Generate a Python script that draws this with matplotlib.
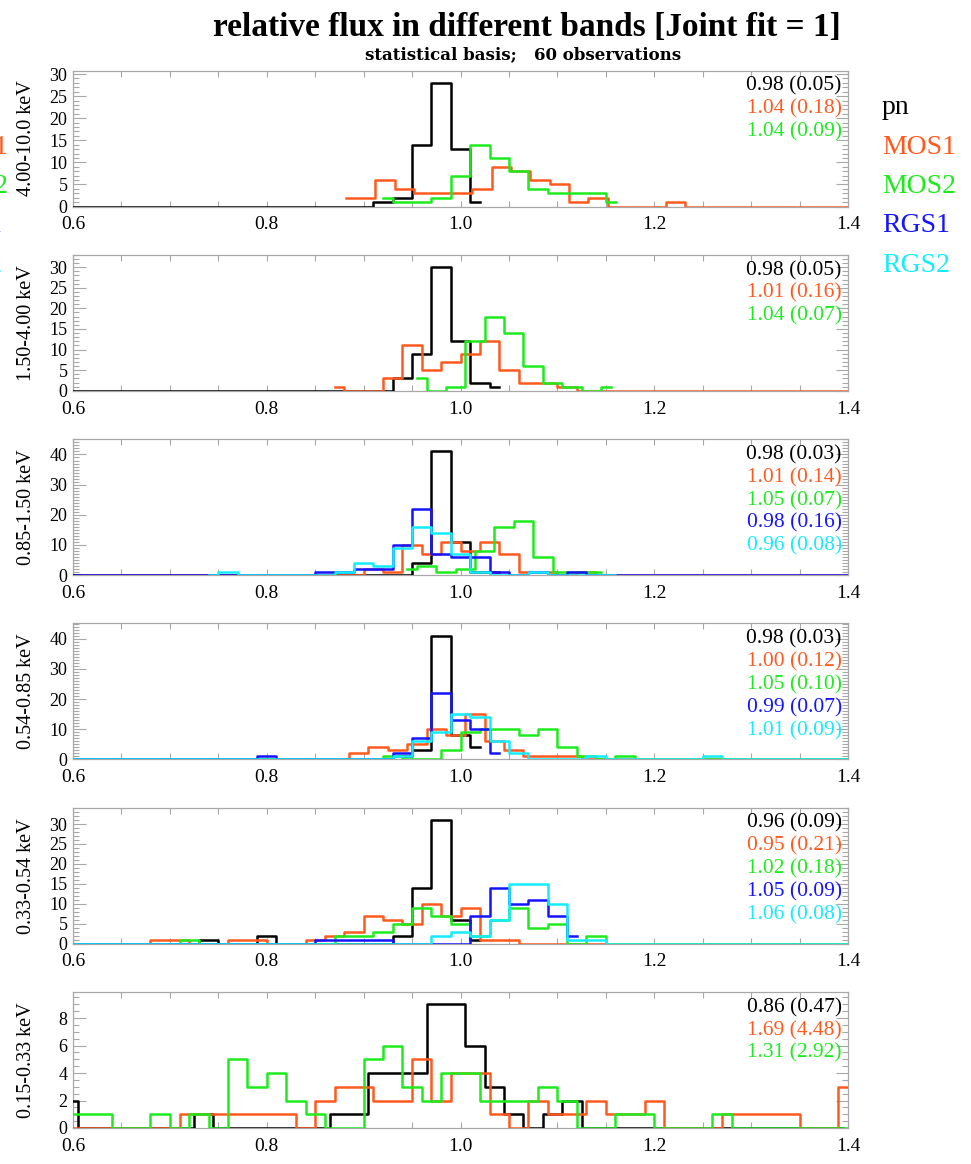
import numpy as np
import matplotlib.pyplot as plt
from matplotlib.ticker import MultipleLocator, FormatStrFormatter

plt.rcParams['font.family'] = ['Liberation Serif', 'DejaVu Serif']

BIN = 0.02

bands = ['4.00-10.0 keV', '1.50-4.00 keV', '0.85-1.50 keV',
         '0.54-0.85 keV', '0.33-0.54 keV', '0.15-0.33 keV']
names = ['pn', 'MOS1', 'MOS2', 'RGS1', 'RGS2']
colors = ['black', '#ff5a1e', '#1eeb1e', '#1414ff', '#14ecff']

# centre of the first bin of each histogram, one entry per band
pn_x0 = [0.60, 0.60, 0.60, 0.60, 0.60, 0.595]
mos1_x0 = [0.882, 0.87, 0.61, 0.595, 0.61, 0.60]
mos2_x0 = [0.92, 0.955, 0.945, 0.61, 0.60, 0.59]
rgs1_x0 = [None, None, 0.60, 0.60, 0.60, None]
rgs2_x0 = [None, None, 0.74, 0.60, 0.60, None]

# counts per bin (0.02 wide)
pn_counts = [
    [0] * 16 + [1, 2, 14, 28, 13, 1],
    [0] * 17 + [3, 9, 30, 12, 2, 1],
    [0] * 18 + [4, 41, 11, 1, 1],
    [0] * 17 + [1, 3, 41, 8, 4],
    [0] * 7 + [1, 0, 0, 2] + [0] * 6 + [2, 14, 31, 6, 1],
    [2] + [0] * 6 + [1] + [0] * 6 + [1, 1, 4, 4, 4, 9, 9, 6, 3, 1, 0, 1, 2] + [0] * 14,
]
mos1_counts = [
    [2, 2, 6, 4, 3, 3, 3, 4, 9, 8, 6, 5, 1, 2, 0, 0, 0, 1] + [0] * 9,
    [1, 0, 0, 3, 11, 5, 7, 9, 12, 5, 2, 2, 1] + [0] * 15,
    [0] * 15 + [2, 1, 10, 7, 11, 8, 11, 7, 1, 1, 0, 1] + [0] * 14,
    [0] * 15 + [2, 4, 3, 5, 10, 8, 15, 6, 3, 1, 1, 1] + [0] * 14,
    [0] * 4 + [1, 1, 0, 0, 1, 1, 0, 0, 1, 2, 3, 7, 6, 5, 10, 7, 9, 1, 1] + [0] * 18,
    [0] * 6 + [1] * 6 + [0, 2, 3, 3, 2, 2, 5, 2, 4, 4, 1, 0, 2, 1, 1, 2, 1, 1, 2,
                         0, 0, 0, 1, 1, 1, 1, 0, 0, 3],
]
mos2_counts = [
    [2, 1, 1, 2, 7, 14, 11, 8, 4, 3, 3, 3, 1],
    [3, 0, 1, 12, 18, 14, 6, 2, 1, 0, 1],
    [2, 3, 1, 2, 8, 16, 18, 6, 1, 1, 1],
    [0] * 16 + [1, 0, 0, 3, 9, 10, 10, 8, 10, 4, 1, 0, 1] + [0] * 12,
    [0] * 6 + [1] + [0] * 7 + [2, 2, 3, 5, 9, 7, 5, 2, 6, 9, 4, 5, 0, 2] + [0] * 13,
    [1, 1, 1, 0, 0, 1, 0, 1, 0, 5, 3, 4, 2, 1, 0, 0, 5, 6, 3, 2, 4, 4, 2, 2, 2,
     3, 2, 0, 0, 1, 1, 0, 0, 0, 1] + [0] * 7,
]
rgs1_counts = [
    None, None,
    [0] * 13 + [1, 1, 2, 2, 10, 22, 7, 6, 6, 1, 0, 1, 0, 1] + [0] * 14,
    [0] * 10 + [1] + [0] * 6 + [2, 7, 22, 13, 10, 2],
    [0] * 13 + [1, 1, 1, 1] + [0] * 4 + [7, 14, 10, 11, 7, 2],
    None,
]
rgs2_counts = [
    None, None,
    [0, 1] + [0] * 5 + [1, 4, 3, 9, 16, 14, 7, 1, 0, 0, 1, 0, 0, 0, 0],
    [0] * 17 + [1, 6, 9, 15, 14, 6, 2, 0, 0, 0, 1] + [0] * 5 + [1] + [0] * 7,
    [0] * 19 + [2, 3, 2, 6, 15, 15, 10, 1, 1] + [0] * 13,
    None,
]

# mean ratio and scatter quoted in each panel
pn_mean = [0.98, 0.98, 0.98, 0.98, 0.96, 0.86]
pn_sig = [0.05, 0.05, 0.03, 0.03, 0.09, 0.47]
mos1_mean = [1.04, 1.01, 1.01, 1.00, 0.95, 1.69]
mos1_sig = [0.18, 0.16, 0.14, 0.12, 0.21, 4.48]
mos2_mean = [1.04, 1.04, 1.05, 1.05, 1.02, 1.31]
mos2_sig = [0.09, 0.07, 0.07, 0.10, 0.18, 2.92]
rgs1_mean = [None, None, 0.98, 0.99, 1.05, None]
rgs1_sig = [None, None, 0.16, 0.07, 0.09, None]
rgs2_mean = [None, None, 0.96, 1.01, 1.06, None]
rgs2_sig = [None, None, 0.08, 0.09, 0.08, None]

x0s = [pn_x0, mos1_x0, mos2_x0, rgs1_x0, rgs2_x0]
counts = [pn_counts, mos1_counts, mos2_counts, rgs1_counts, rgs2_counts]
means = [pn_mean, mos1_mean, mos2_mean, rgs1_mean, rgs2_mean]
sigs = [pn_sig, mos1_sig, mos2_sig, rgs1_sig, rgs2_sig]
ymajor = [5, 5, 10, 10, 5, 2]
yminor = [1, 1, 1, 1, 1, 0.5]

W, H = 971, 1164
fig = plt.figure(figsize=(W / 100, H / 100), dpi=100)

left, width, height = 73, 775, 136
axis_grey = '#a8a8a8'

for i, band in enumerate(bands):
    top = 70.5 + 184.3 * i
    ax = fig.add_axes([left / W, 1 - (top + height) / H, width / W, height / H])
    peak = 0
    for k in range(5):
        n = counts[k][i]
        if n is None:
            continue
        x = x0s[k][i] + BIN * np.arange(len(n))
        ax.step(x, n, where='mid', color=colors[k], lw=1.8, zorder=3 + k)
        peak = max(peak, max(n))

    ax.set_xlim(0.6, 1.4)
    ax.set_ylim(0, 1.1 * peak)
    ax.xaxis.set_major_locator(MultipleLocator(0.2))
    ax.xaxis.set_minor_locator(MultipleLocator(0.05))
    ax.xaxis.set_major_formatter(FormatStrFormatter('%.1f'))
    ax.yaxis.set_major_locator(MultipleLocator(ymajor[i]))
    ax.yaxis.set_minor_locator(MultipleLocator(yminor[i]))
    ax.tick_params(which='both', direction='in', top=True, right=True,
                   color=axis_grey, width=0.8)
    ax.tick_params(axis='x', which='both', length=4, labelsize=14, pad=7)
    ax.tick_params(axis='y', which='major', length=9, labelsize=13, pad=4)
    ax.tick_params(axis='y', which='minor', length=4)
    for s in ax.spines.values():
        s.set_color(axis_grey)
        s.set_linewidth(0.9)
        s.set_zorder(1)

    ax.set_ylabel(band, fontsize=14.5)
    ax.yaxis.set_label_coords((36 - left) / width, 0.5)

    # mean (sigma) per instrument, top right
    line = 0
    for k in range(5):
        if means[k][i] is None:
            continue
        ax.text(0.992, 0.885 - line * 0.168,
                '%.2f (%.2f)' % (means[k][i], sigs[k][i]),
                transform=ax.transAxes, ha='right', va='center',
                fontsize=15.5, color=colors[k])
        line += 1

fig.text(527 / W, 1 - 28 / H, 'relative flux in different bands [Joint fit = 1]',
         ha='center', va='center', fontsize=24, fontweight='bold')
fig.text(523 / W, 1 - 55 / H, 'statistical basis;   60 observations',
         ha='center', va='center', fontsize=12, fontweight='bold',
         family='DejaVu Serif')

# instrument key on the right, and its copy running off the left edge
for k, name in enumerate(names):
    y = 1 - (108 + 39.3 * k) / H
    fig.text(882 / W, y, name, ha='left', va='center', fontsize=20, color=colors[k])
    if k > 0:
        fig.text(-66 / W, y, name, ha='left', va='center', fontsize=20, color=colors[k])

fig.savefig('out.png', dpi=100)
